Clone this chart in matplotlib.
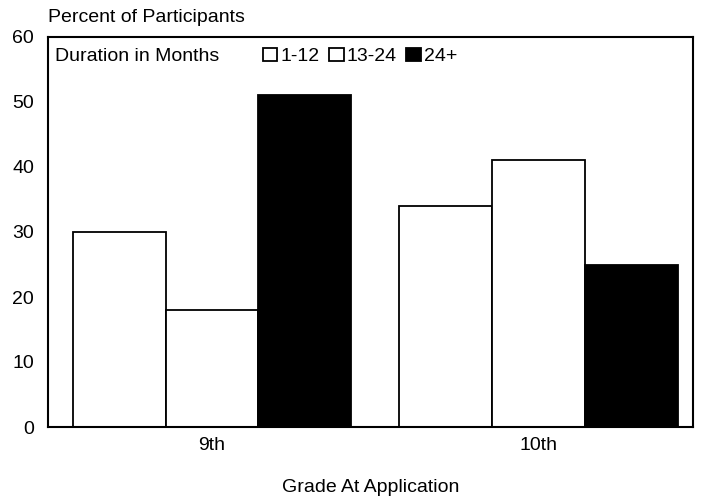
import matplotlib
matplotlib.use("Agg")
import matplotlib.pyplot as plt
import numpy as np

plt.rcParams['font.family'] = ['Liberation Sans', 'DejaVu Sans']

grades = ["9th", "10th"]
series_names = ["1-12", "13-24", "24+"]
values_1_12 = [30, 34]
values_13_24 = [18, 41]
values_24p = [51, 25]
colors = ["white", "white", "black"]
yticks = [0, 10, 20, 30, 40, 50, 60]

FS = 14

fig = plt.figure(figsize=(7.03, 4.97), dpi=100)
ax = fig.add_axes([48/703, 70/497, (693-48)/703, (427-37)/497])

x = np.arange(len(grades))
w = 0.285
for i, (vals, c, name) in enumerate(zip([values_1_12, values_13_24, values_24p], colors, series_names)):
    ax.bar(x + (i - 1) * w, vals, width=w, color=c, edgecolor="black", linewidth=1.3, label=name)

ax.set_xlim(-0.503, 1.475)
ax.set_ylim(0, 60)
ax.set_yticks(yticks)
ax.set_yticklabels([str(t) for t in yticks], fontsize=FS)
ax.set_xticks(x)
ax.set_xticklabels(grades, fontsize=FS)
ax.tick_params(axis='y', length=0, pad=10)
ax.tick_params(axis='x', length=0, pad=7)
for s in ax.spines.values():
    s.set_linewidth(1.5)
    s.set_color("black")

ax.set_xlabel("Grade At Application", fontsize=FS, labelpad=18)
fig.text(48/703, 1 - 17/497, "Percent of Participants", fontsize=FS, va="center", ha="left")

ax.text(0.011, 0.95, "Duration in Months", transform=ax.transAxes, fontsize=FS, va="center", ha="left")
leg = ax.legend(loc="center left", bbox_to_anchor=(0.333, 0.95), ncol=3, frameon=False,
                fontsize=FS, handlelength=0.75, handleheight=0.7, handletextpad=0.15,
                columnspacing=0.5, borderaxespad=0, borderpad=0)

fig.savefig("out.png", dpi=100)
